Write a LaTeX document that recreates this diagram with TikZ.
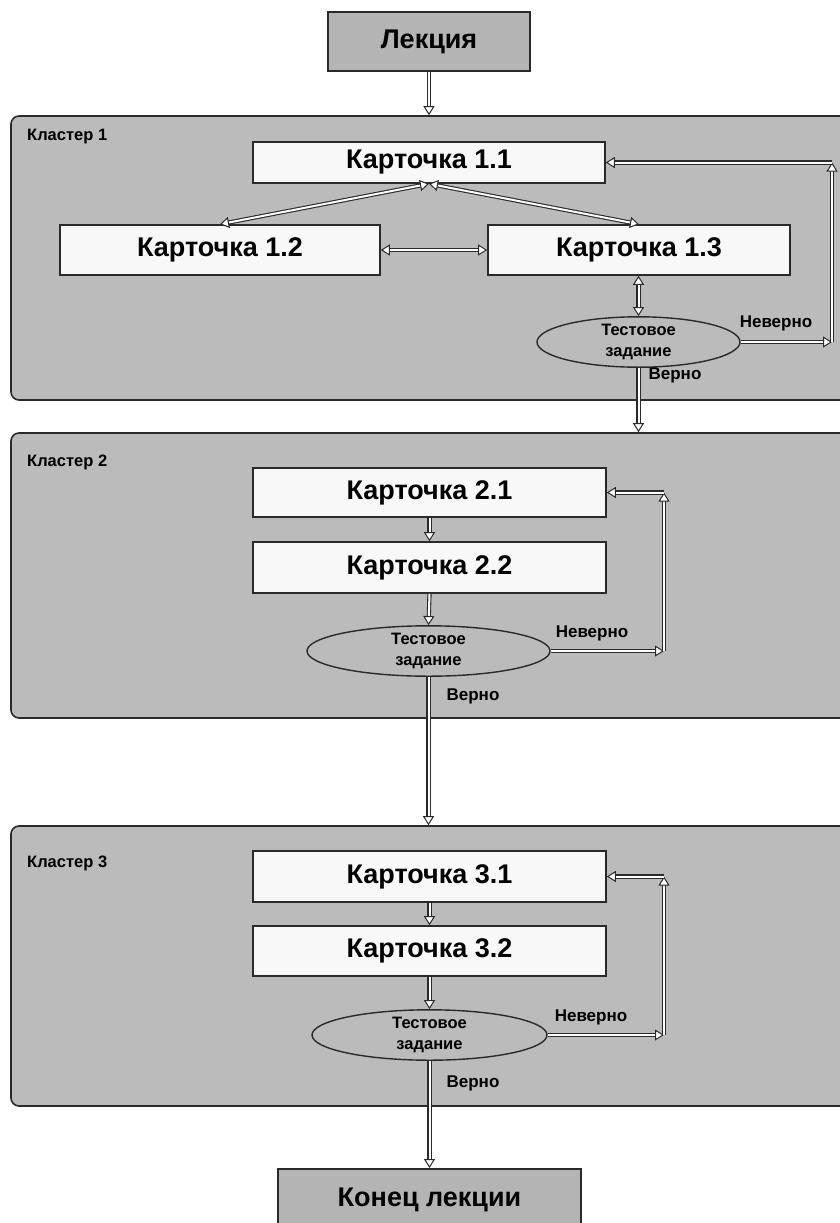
\documentclass[tikz,border=0pt]{standalone}
\usepackage{fontspec}
\setmainfont{Liberation Sans}
\usetikzlibrary{arrows.meta, shapes.geometric}
\definecolor{clgray}{HTML}{BBBBBB}
\definecolor{termgray}{HTML}{B4B4B4}
\definecolor{cardfill}{HTML}{F8F8F8}
\definecolor{edge}{HTML}{2A2A2A}
\begin{document}
\begin{tikzpicture}[x=1pt,y=-1pt,
  cluster/.style={draw=edge, line width=1.6pt, fill=clgray, rounded corners=8pt},
  card/.style={draw=edge, line width=1.6pt, fill=cardfill, inner sep=0pt,
    font=\fontsize{27}{30}\selectfont\bfseries},
  term/.style={draw=edge, line width=1.6pt, fill=termgray, inner sep=0pt,
    font=\fontsize{27}{30}\selectfont\bfseries},
  test/.style={ellipse, draw=edge, line width=1.4pt, fill=clgray, inner sep=0pt,
    align=center, font=\fontsize{16.5}{21}\selectfont\bfseries},
  lbl/.style={inner sep=0pt, font=\fontsize{17}{19}\selectfont\bfseries},
  cltitle/.style={anchor=west, inner sep=0pt, font=\fontsize{16.5}{18}\selectfont\bfseries},
  tip/.tip={Triangle[open, fill=white, length=9pt, width=11pt, line width=1pt]},
  dbl/.style={draw=edge, line width=1.1pt, double=white, double distance=2pt, -tip},
  ddbl/.style={dbl, tip-tip}
]
\useasboundingbox (0,0) rectangle (840,1223);
\clip (0,0) rectangle (840,1223);

% clusters
\node[cluster, minimum width=839pt, minimum height=284pt, inner sep=0pt] (cl1) at (430.5,258) {};
\node[cluster, minimum width=839pt, minimum height=285pt, inner sep=0pt] (cl2) at (430.5,575.5) {};
\node[cluster, minimum width=839pt, minimum height=280pt, inner sep=0pt] (cl3) at (430.5,966) {};
\node[cltitle] (t1) at (27,137) {Кластер 1};
\node[cltitle] (t2) at (27,462) {Кластер 2};
\node[cltitle] (t3) at (27,863) {Кластер 3};

% terminals
\node[term, minimum width=202pt, minimum height=59pt] (lec) at (429,41.5) {Лекция};
\node[term, minimum width=303pt, minimum height=64pt, text depth=0pt, anchor=north] (kon) at (429.5,1168) {\raisebox{8pt}{Конец лекции}};

% cluster 1
\node[card, minimum width=352pt, minimum height=41pt] (c11) at (429,162.5) {Карточка 1.1};
\node[card, minimum width=320pt, minimum height=50pt] (c12) at (220,250) {Карточка 1.2};
\node[card, minimum width=302pt, minimum height=50pt] (c13) at (639,250) {Карточка 1.3};
\node[test, minimum width=203pt, minimum height=50pt] (e1) at (638.5,342) {Тестовое\\задание};

% cluster 2
\node[card, minimum width=353pt, minimum height=49pt] (c21) at (429.5,492.5) {Карточка 2.1};
\node[card, minimum width=353pt, minimum height=51pt] (c22) at (429.5,567.5) {Карточка 2.2};
\node[test, minimum width=243pt, minimum height=50pt] (e2) at (428.5,651) {Тестовое\\задание};

% cluster 3
\node[card, minimum width=353pt, minimum height=51pt] (c31) at (429.5,876.5) {Карточка 3.1};
\node[card, minimum width=353pt, minimum height=50pt] (c32) at (429.5,951) {Карточка 3.2};
\node[test, minimum width=235pt, minimum height=50pt] (e3) at (429.5,1035) {Тестовое\\задание};

% feedback corners
\coordinate (r1b) at (832,342);
\coordinate (r1t) at (832,162.5);
\coordinate (r2b) at (664,651);
\coordinate (r2t) at (664,492.5);
\coordinate (r3b) at (664,1035);
\coordinate (r3t) at (664,876.5);

% connectors
\draw[dbl] (lec.south) -- (lec.south |- cl1.north);
\draw[ddbl] (c11.south) -- (c12.north);
\draw[ddbl] (c11.south) -- (c13.north);
\draw[ddbl] (c12.east) -- (c13.west);
\draw[ddbl] (c13.south -| e1.north) -- (e1.north);
\draw[dbl] (e1.east) -- (r1b);
\draw[dbl] (r1b) -- (r1t);
\draw[dbl] (r1t) -- (c11.east);
\draw[dbl] (e1.south) -- (e1.south |- cl2.north);

\draw[dbl] (c21.south) -- (c22.north);
\draw[dbl] (c22.south) -- (e2.north);
\draw[dbl] (e2.east) -- (r2b);
\draw[dbl] (r2b) -- (r2t);
\draw[dbl] (r2t) -- (c21.east);
\draw[dbl] (e2.south) -- (e2.south |- cl3.north);

\draw[dbl] (c31.south) -- (c32.north);
\draw[dbl] (c32.south) -- (e3.north);
\draw[dbl] (e3.east) -- (r3b);
\draw[dbl] (r3b) -- (r3t);
\draw[dbl] (r3t) -- (c31.east);
\draw[dbl] (e3.south) -- (kon.north);

% labels
\node[lbl] (n1) at (776,323) {Неверно};
\node[lbl] (v1) at (675,375) {Верно};
\node[lbl] (n2) at (592,633) {Неверно};
\node[lbl] (v2) at (473,696) {Верно};
\node[lbl] (n3) at (591,1017) {Неверно};
\node[lbl] (v3) at (473,1083) {Верно};
\end{tikzpicture}
\end{document}
